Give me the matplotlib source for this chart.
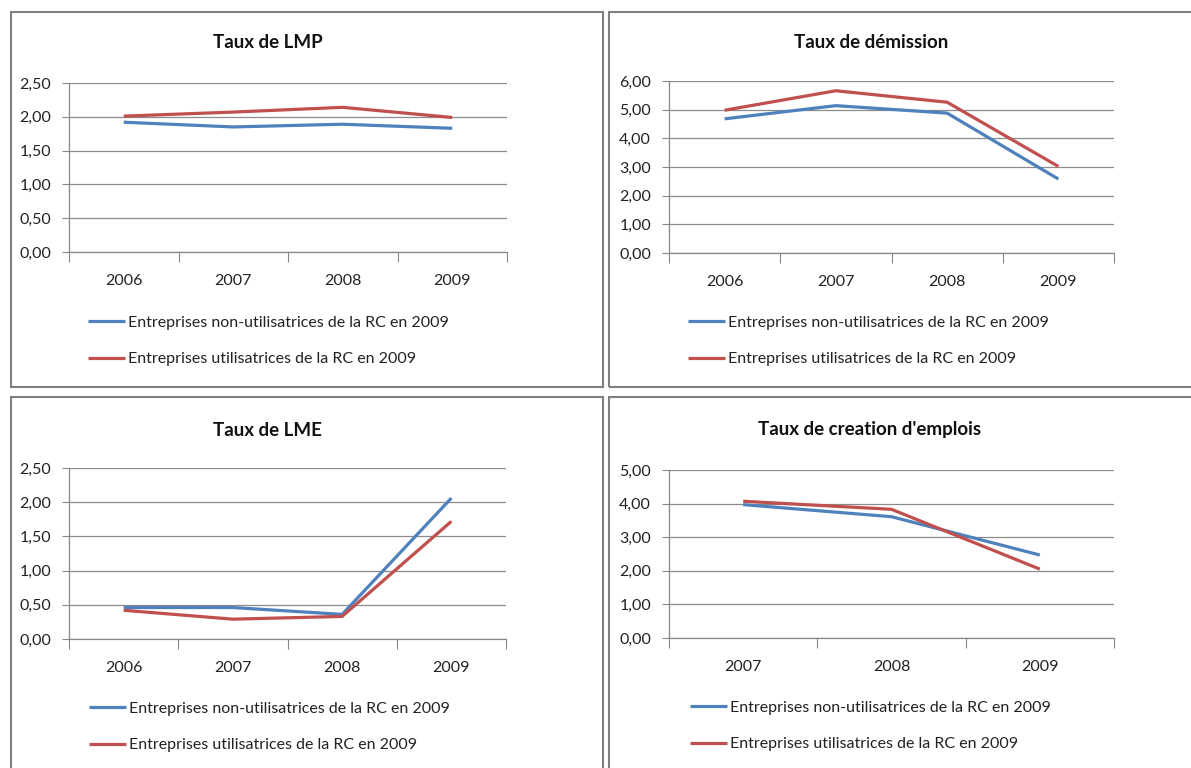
import matplotlib
matplotlib.use("Agg")
import matplotlib.pyplot as plt
from matplotlib.ticker import FuncFormatter, MultipleLocator
from matplotlib.patches import Rectangle

plt.rcParams['font.family'] = ['Lato', 'DejaVu Sans']

# données
annees = ["2006", "2007", "2008", "2009"]
annees_emploi = ["2007", "2008", "2009"]

lmp_non = [1.92, 1.85, 1.89, 1.83]
lmp_util = [2.01, 2.07, 2.14, 1.99]

dem_non = [4.68, 5.14, 4.88, 2.58]
dem_util = [4.98, 5.66, 5.26, 3.02]

lme_non = [0.46, 0.46, 0.36, 2.06]
lme_util = [0.42, 0.29, 0.33, 1.72]

emp_non = [3.97, 3.61, 2.47]
emp_util = [4.07, 3.83, 2.05]

titres = ["Taux de LMP", "Taux de démission", "Taux de LME", "Taux de creation d'emplois"]
serie_noms = ["Entreprises non-utilisatrices de la RC en 2009",
              "Entreprises utilisatrices de la RC en 2009"]

BLEU = "#4F81BD"
ROUGE = "#C0504D"
W, H = 1191, 768

fig = plt.figure(figsize=(W / 100, H / 100), dpi=100)


def fx(x):
    return x / W


def fy(y):
    return 1 - y / H


def cadre(l, t, r, b):
    fig.patches.append(Rectangle((fx(l), fy(b)), fx(r - l), (b - t) / H,
                                 transform=fig.transFigure, fill=False,
                                 edgecolor="#7f7f7f", lw=1.5))


def panneau(box, cats, non, util, ymax, pas, titre, titre_xy, leg_xy):
    l, t, r, b = box
    ax = fig.add_axes([fx(l), fy(b), fx(r - l), (b - t) / H])
    x = range(len(cats))
    ax.plot(x, non, color=BLEU, lw=2.3, label=serie_noms[0], solid_capstyle='butt')
    ax.plot(x, util, color=ROUGE, lw=2.3, label=serie_noms[1], solid_capstyle='butt')
    ax.set_xlim(-0.5, len(cats) - 0.5)
    ax.set_ylim(0, ymax)
    ax.yaxis.set_major_locator(MultipleLocator(pas))
    ax.yaxis.set_major_formatter(FuncFormatter(lambda v, p: f"{v:.2f}".replace('.', ',')))
    ax.set_xticks([i - 0.5 for i in range(len(cats) + 1)])
    ax.set_xticklabels([])
    ax.set_xticks(list(x), minor=True)
    ax.set_xticklabels(cats, minor=True)
    ax.tick_params(axis='x', which='minor', length=0, pad=16, labelsize=11.5, labelcolor="#222222")
    ax.tick_params(axis='x', which='major', length=7, color="#888888", direction='out')
    ax.tick_params(axis='y', length=5, color="#888888", pad=8, labelsize=11.5, labelcolor="#222222")
    ax.grid(axis='y', color="#8c8c8c", lw=0.9)
    ax.set_axisbelow(True)
    for s in ["top", "right"]:
        ax.spines[s].set_visible(False)
    for s in ["left", "bottom"]:
        ax.spines[s].set_color("#888888")
        ax.spines[s].set_linewidth(0.9)
    fig.text(fx(titre_xy[0]), fy(titre_xy[1]), titre, ha="center", va="center",
             fontsize=13.5, fontweight="bold", color="#111111")
    ax.legend(loc="center left", bbox_to_anchor=(fx(leg_xy[0]), fy(leg_xy[1])),
              bbox_transform=fig.transFigure, frameon=False, fontsize=11.5,
              handlelength=2.3, handletextpad=0.2, labelspacing=1.4,
              borderpad=0, borderaxespad=0, labelcolor="#222222")
    return ax


cadre(11, 12, 603, 387)
cadre(609, 12, 1195, 387)
cadre(11, 397, 603, 775)
cadre(609, 397, 1195, 775)

panneau((69, 83, 507, 252), annees, lmp_non, lmp_util, 2.5, 0.5,
        titres[0], (268, 43), (88, 341))
panneau((669, 81, 1114, 253), annees, dem_non, dem_util, 6.0, 1.0,
        titres[1], (871, 43), (688, 341))
panneau((69, 468, 506, 639), annees, lme_non, lme_util, 2.5, 0.5,
        titres[2], (267, 430), (89, 727))
panneau((669, 470, 1114, 638), annees_emploi, emp_non, emp_util, 5.0, 1.0,
        titres[3], (870, 430), (690, 726))

fig.savefig("out.png", dpi=100, facecolor="white")
